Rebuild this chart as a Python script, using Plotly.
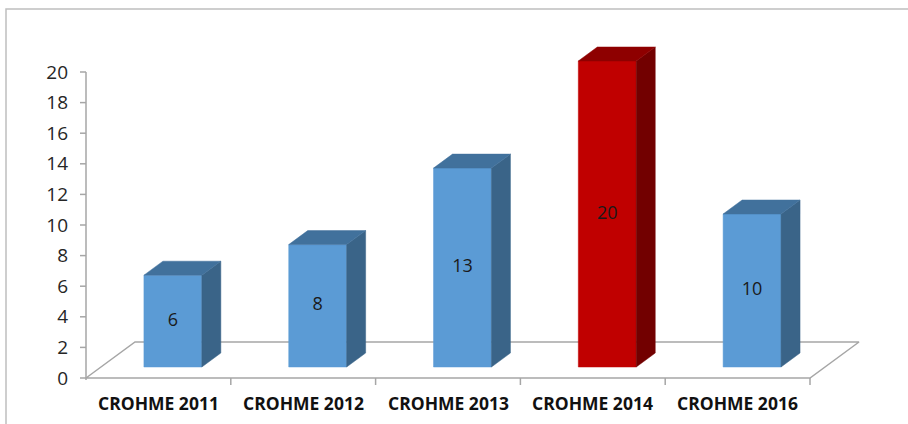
import plotly.graph_objects as go

# Chart data
categories = ["CROHME 2011", "CROHME 2012", "CROHME 2013", "CROHME 2014", "CROHME 2016"]
values = [6, 8, 13, 20, 10]
highlight = [False, False, False, True, False]
y_ticks = [0, 2, 4, 6, 8, 10, 12, 14, 16, 18, 20]

# Pseudo-3D geometry (in data units)
PX_X = 144.8          # pixels per category
PX_Y = 15.3           # pixels per value unit
FLOOR_DX = 49 / PX_X  # floor depth, horizontal
FLOOR_DY = 36 / PX_Y  # floor depth, vertical
BAR_DX = 19 / PX_X    # bar depth, horizontal
BAR_DY = 14 / PX_Y    # bar depth, vertical
BAR_BASE = 11 / PX_Y  # bars stand in the middle of the floor
BAR_LEFT, BAR_RIGHT = -0.1, 0.3

BLUE = dict(front="#5B9BD5", top="#41719C", side="#3A6488")
RED = dict(front="#C00000", top="#8E0000", side="#720000")
AXIS = "#A6A6A6"

W, H = 908, 424
L, R, T, B = 76, 28, 30, 24
x0 = -0.5 - (86 - L) / PX_X
x1 = x0 + (W - L - R) / PX_X
y0 = -(H - B - 378) / PX_Y
y1 = y0 + (H - T - B) / PX_Y

fig = go.Figure()

def poly(xs, ys, color, line=None, width=0):
    fig.add_trace(go.Scatter(
        x=xs, y=ys, mode="lines", fill="toself" if color else None,
        fillcolor=color, line=dict(color=line or color or AXIS, width=width),
        hoverinfo="skip", showlegend=False))

n = len(categories)
# Floor outline
poly([-0.5, n - 0.5, n - 0.5 + FLOOR_DX, -0.5 + FLOOR_DX, -0.5],
     [0, 0, FLOOR_DY, FLOOR_DY, 0], None, AXIS, 1.5)

# Y axis line and ticks
poly([-0.5, -0.5], [-2 / PX_Y, 20], None, AXIS, 1.5)
tx, ty = [], []
for v in y_ticks:
    tx += [-0.5 - 6 / PX_X, -0.5, None]
    ty += [v, v, None]
poly(tx, ty, None, AXIS, 1.5)

# Category separator ticks below the front edge
cx, cy = [], []
for i in range(n):
    cx += [i + 0.5, i + 0.5, None]
    cy += [0, -7 / PX_Y, None]
poly(cx, cy, None, AXIS, 1.5)

# Bars: front, side and top faces
for i, (v, hl) in enumerate(zip(values, highlight)):
    c = RED if hl else BLUE
    xl, xr = i + BAR_LEFT, i + BAR_RIGHT
    yb, yt = BAR_BASE, BAR_BASE + v
    poly([xl, xr, xr, xl, xl], [yb, yb, yt, yt, yb], c["front"], width=0.5)
    poly([xr, xr + BAR_DX, xr + BAR_DX, xr, xr],
         [yb, yb + BAR_DY, yt + BAR_DY, yt, yb], c["side"], width=0.5)
    poly([xl, xr, xr + BAR_DX, xl + BAR_DX, xl],
         [yt, yt, yt + BAR_DY, yt + BAR_DY, yt], c["top"], width=0.5)

# Value labels in the middle of each front face
fig.add_trace(go.Scatter(
    x=[i + (BAR_LEFT + BAR_RIGHT) / 2 for i in range(n)],
    y=[BAR_BASE + v / 2 for v in values],
    mode="text", text=[str(v) for v in values],
    textfont=dict(family="Open Sans", size=18, color="#1A1A1A"),
    hoverinfo="skip", showlegend=False))

# Category labels under the front edge
for i, cat in enumerate(categories):
    fig.add_annotation(x=i, y=0, text=f"<b>{cat}</b>", showarrow=False,
                       yanchor="middle", yshift=-25,
                       font=dict(family="Open Sans", size=17.5, color="#111111"))

fig.update_layout(
    width=W, height=H,
    margin=dict(l=L, r=R, t=T, b=B),
    paper_bgcolor="white", plot_bgcolor="white",
    xaxis=dict(range=[x0, x1], visible=False, fixedrange=True),
    yaxis=dict(range=[y0, y1], tickvals=y_ticks, ticks="",
               showgrid=False, zeroline=False, showline=False,
               ticklabelstandoff=7,
               tickfont=dict(family="Open Sans", size=19, color="#262626")),
    shapes=[dict(type="rect", xref="paper", yref="paper",
                 x0=(6 - L) / (W - L - R), x1=(W + 20 - L) / (W - L - R),
                 y0=-(B + 20) / (H - T - B), y1=(H - 9 - B) / (H - T - B),
                 line=dict(color="#BFBFBF", width=1.5), layer="below")],
)

fig.write_html("out.html")
